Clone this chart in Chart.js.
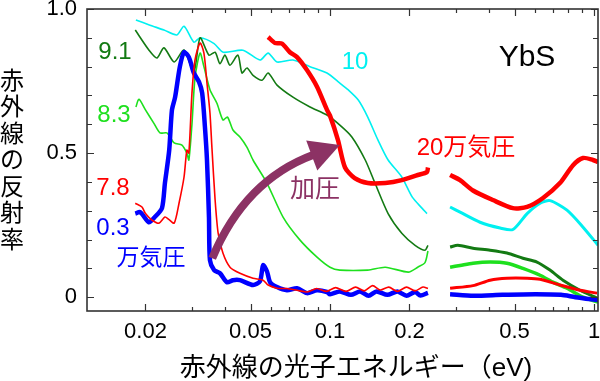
<!DOCTYPE html>
<html>
<head>
<meta charset="utf-8">
<script src="https://cdn.jsdelivr.net/npm/chart.js@4.4.0/dist/chart.umd.min.js"></script>
<style>
  html, body { margin: 0; padding: 0; background: #fff; }
  #chart { display: block; }
</style>
</head>
<body>
<canvas id="chart" width="600" height="381"></canvas>
<script>
// Photon energy (eV) and reflectance for each pressure (万気圧)
// null marks the gap between the two spectrometers
const e03 = [0.0183, 0.0191, 0.0206, 0.0217, 0.0231, 0.0237, 0.0246, 0.0252, 0.0259, 0.0270, 0.0280, 0.0292, 0.0305, 0.0319, 0.0328, 0.0336, 0.0342, 0.0348, 0.0351, 0.0364, 0.0383, 0.0407, 0.0429, 0.0456, 0.0511, 0.0543, 0.0558, 0.0577, 0.0593, 0.0630, 0.0687, 0.0750, 0.0818, 0.0893, 0.0974, 0.1000, 0.109, 0.120, 0.130, 0.140, 0.150, 0.165, 0.180, 0.195, 0.210, 0.220, 0.235, 0.26, 0.285, 0.350, 0.450, 0.600, 0.750, 0.850, 1.036];
const r03 = [0.290, 0.295, 0.260, 0.278, 0.309, 0.396, 0.510, 0.650, 0.694, 0.800, 0.850, 0.833, 0.778, 0.747, 0.708, 0.590, 0.476, 0.278, 0.128, 0.094, 0.083, 0.052, 0.059, 0.059, 0.042, 0.055, 0.111, 0.090, 0.052, 0.035, 0.024, 0.031, 0.014, 0.024, 0.018, 0.010, 0.020, 0.008, 0.020, 0.005, 0.020, 0.008, 0.020, 0.005, 0.018, 0.006, 0.015, null, 0.010, 0.005, 0.008, 0.010, 0.008, 0.000, -0.010];

const e78 = [0.0183, 0.0194, 0.0200, 0.0212, 0.0225, 0.0237, 0.0245, 0.0257, 0.0268, 0.0280, 0.0287, 0.0292, 0.0300, 0.0308, 0.0322, 0.0333, 0.0342, 0.0351, 0.0357, 0.0367, 0.0377, 0.0393, 0.0418, 0.0456, 0.0511, 0.0558, 0.0583, 0.0630, 0.0687, 0.0750, 0.0820, 0.0890, 0.0970, 0.105, 0.115, 0.125, 0.135, 0.145, 0.155, 0.167, 0.180, 0.195, 0.210, 0.225, 0.235, 0.26, 0.285, 0.348, 0.404, 0.468, 0.558, 0.625, 0.743, 0.885, 1.027];
const r78 = [0.326, 0.313, 0.290, 0.267, 0.257, 0.278, 0.270, 0.257, 0.326, 0.417, 0.510, 0.500, 0.708, 0.823, 0.882, 0.847, 0.743, 0.640, 0.520, 0.340, 0.222, 0.153, 0.104, 0.083, 0.066, 0.059, 0.042, 0.031, 0.030, 0.024, 0.018, 0.030, 0.020, 0.033, 0.020, 0.035, 0.022, 0.040, 0.025, 0.035, 0.020, 0.035, 0.022, 0.035, 0.030, null, 0.031, 0.040, 0.059, 0.066, 0.066, 0.062, 0.042, 0.024, 0.014];

const e83 = [0.0184, 0.0189, 0.0200, 0.0215, 0.0227, 0.0241, 0.0257, 0.0275, 0.0287, 0.0292, 0.0300, 0.0308, 0.0322, 0.0333, 0.0351, 0.0373, 0.0393, 0.0409, 0.0429, 0.0456, 0.0485, 0.0511, 0.0577, 0.0664, 0.0770, 0.0893, 0.1000, 0.109, 0.139, 0.162, 0.198, 0.215, 0.229, 0.235, 0.26, 0.285, 0.311, 0.348, 0.404, 0.468, 0.538, 0.625, 0.699, 0.790, 0.909, 1.036];
const r83 = [0.660, 0.687, 0.650, 0.604, 0.570, 0.570, 0.535, 0.528, 0.500, 0.476, 0.600, 0.760, 0.847, 0.800, 0.720, 0.673, 0.615, 0.625, 0.580, 0.556, 0.520, 0.476, 0.396, 0.278, 0.198, 0.139, 0.104, 0.094, 0.094, 0.104, 0.087, 0.104, 0.120, 0.160, null, 0.104, 0.110, 0.118, 0.122, 0.118, 0.100, 0.076, 0.052, 0.031, 0.000, -0.017];

const e91 = [0.0183, 0.0206, 0.0221, 0.0235, 0.0257, 0.0280, 0.0305, 0.0322, 0.0348, 0.0367, 0.0383, 0.0400, 0.0418, 0.0448, 0.0464, 0.0485, 0.0511, 0.0553, 0.0583, 0.0630, 0.0724, 0.0840, 0.0974, 0.109, 0.121, 0.136, 0.148, 0.166, 0.187, 0.210, 0.229, 0.235, 0.26, 0.285, 0.305, 0.348, 0.404, 0.468, 0.538, 0.608, 0.681, 0.763, 0.885, 1.027];
const r91 = [0.927, 0.858, 0.830, 0.865, 0.816, 0.858, 0.780, 0.900, 0.840, 0.850, 0.810, 0.840, 0.805, 0.840, 0.778, 0.795, 0.770, 0.753, 0.778, 0.736, 0.694, 0.660, 0.632, 0.597, 0.556, 0.476, 0.396, 0.290, 0.222, 0.180, 0.163, 0.180, null, 0.174, 0.180, 0.170, 0.163, 0.153, 0.135, 0.122, 0.094, 0.059, 0.024, -0.003];

const e10 = [0.0184, 0.0208, 0.0235, 0.0263, 0.0280, 0.0305, 0.0322, 0.0364, 0.0394, 0.0468, 0.0543, 0.0583, 0.0630, 0.0724, 0.0840, 0.0974, 0.109, 0.117, 0.128, 0.139, 0.152, 0.166, 0.187, 0.205, 0.223, 0.233, 0.26, 0.285, 0.311, 0.370, 0.441, 0.493, 0.558, 0.625, 0.681, 0.790, 0.909, 1.036];
const r10 = [0.962, 0.944, 0.927, 0.910, 0.940, 0.885, 0.900, 0.880, 0.850, 0.857, 0.823, 0.847, 0.816, 0.823, 0.800, 0.778, 0.743, 0.720, 0.684, 0.625, 0.545, 0.476, 0.417, 0.347, 0.309, 0.290, null, 0.313, 0.295, 0.260, 0.240, 0.235, 0.290, 0.326, 0.335, 0.302, 0.243, 0.180];

const e20 = [0.0583, 0.0619, 0.0658, 0.0705, 0.0750, 0.0818, 0.0893, 0.0974, 0.1000, 0.1072, 0.114, 0.124, 0.139, 0.162, 0.187, 0.215, 0.233, 0.235, 0.26, 0.285, 0.311, 0.348, 0.414, 0.493, 0.558, 0.641, 0.743, 0.833, 0.909, 0.991, 1.036];
const r20 = [0.903, 0.882, 0.880, 0.850, 0.833, 0.788, 0.730, 0.650, 0.630, 0.545, 0.450, 0.413, 0.396, 0.396, 0.406, 0.424, 0.434, 0.450, null, 0.424, 0.406, 0.370, 0.337, 0.309, 0.313, 0.344, 0.396, 0.458, 0.483, 0.476, 0.469];

// Axis ticks
const xTicks = [0.02, 0.03, 0.04, 0.05, 0.06, 0.07, 0.08, 0.09, 0.1, 0.2, 0.3, 0.4, 0.5, 0.6, 0.7, 0.8, 0.9, 1];
const xLabels = { 0.02: '0.02', 0.05: '0.05', 0.1: '0.1', 0.2: '0.2', 0.5: '0.5', 1: '1' };
const yTicks = [0, 0.1, 0.2, 0.3, 0.4, 0.5, 0.6, 0.7, 0.8, 0.9, 1.0];
const yLabels = { 0: '0', 0.5: '0.5', 1: '1.0' };

// Text labels placed at (energy, reflectance)
const noteText = ['9.1', '8.3', '7.8', '0.3', '万気圧', '10', 'YbS', '20万気圧', '加圧'];
const noteE = [0.01533, 0.01520, 0.01507, 0.01507, 0.02099, 0.1244, 0.5575, 0.3274, 0.0877];
const noteR = [0.851, 0.632, 0.378, 0.240, 0.135, 0.816, 0.830, 0.517, 0.372];

// Pressure arrow: start, bend, tip (energy, reflectance)
const arrowE = [0.0358, 0.0476, 0.109];
const arrowR = [0.135, 0.406, 0.528];

const yTitle = '赤外線の反射率';
const xTitle = '赤外線の光子エネルギー（eV)';

const FONT = "'Liberation Sans', Arial, 'Noto Sans CJK JP', sans-serif";
const noteColor = ['#137a13', '#1ee01e', '#ff0000', '#0000ff', '#0000ff', '#00f0f0', '#000000', '#ff0000', '#8c3264'];
const noteSize = [24, 24, 24, 24, 23, 24, 30, 24, 25];

function toPoints(es, rs) {
    return es.map((e, i) => ({ x: e, y: rs[i] }));
}

function makeSet(es, rs, color, width, wideAfterGap) {
    return {
        data: toPoints(es, rs),
        borderColor: color,
        borderWidth: width,
        pointRadius: 0,
        tension: 0.25,
        spanGaps: false,
        fill: false,
        segment: {
            borderWidth: ctx => (ctx.p0.parsed.x > 0.26 ? wideAfterGap : width)
        }
    };
}

// Frame and inward tick marks on all four sides
const framePlugin = {
    id: 'frame',
    afterDatasetsDraw(chart) {
        const { ctx, chartArea: a, scales: { x, y } } = chart;
        ctx.save();
        ctx.strokeStyle = '#333';
        ctx.lineWidth = 1.2;
        ctx.beginPath();
        xTicks.forEach(v => {
            const px = Math.round(x.getPixelForValue(v)) + 0.5;
            const len = xLabels[v] ? 7 : 4;
            ctx.moveTo(px, a.bottom); ctx.lineTo(px, a.bottom - len);
            ctx.moveTo(px, a.top); ctx.lineTo(px, a.top + len);
        });
        yTicks.forEach(v => {
            const py = Math.round(y.getPixelForValue(v)) + 0.5;
            const len = yLabels[v] ? 7 : 5;
            ctx.moveTo(a.left, py); ctx.lineTo(a.left + len, py);
            ctx.moveTo(a.right, py); ctx.lineTo(a.right - len, py);
        });
        ctx.stroke();
        ctx.lineWidth = 1.6;
        ctx.strokeRect(a.left, a.top, a.right - a.left, a.bottom - a.top);
        ctx.restore();
    }
};

// Curved pressure arrow and text notes
const notesPlugin = {
    id: 'notes',
    afterDraw(chart) {
        const { ctx, scales: { x, y } } = chart;
        ctx.save();

        const sx = x.getPixelForValue(arrowE[0]), sy = y.getPixelForValue(arrowR[0]);
        const cx = x.getPixelForValue(arrowE[1]), cy = y.getPixelForValue(arrowR[1]);
        const tx = x.getPixelForValue(arrowE[2]), ty = y.getPixelForValue(arrowR[2]);
        let dx = tx - cx, dy = ty - cy;
        const d = Math.hypot(dx, dy);
        dx /= d; dy /= d;
        const headLen = 30, headHalf = 16;
        const bx = tx - dx * headLen, by = ty - dy * headLen;
        ctx.strokeStyle = '#8c3264';
        ctx.fillStyle = '#8c3264';
        ctx.lineWidth = 8;
        ctx.beginPath();
        ctx.moveTo(sx, sy);
        ctx.quadraticCurveTo(cx, cy, bx + dx * 2, by + dy * 2);
        ctx.stroke();
        ctx.beginPath();
        ctx.moveTo(tx, ty);
        ctx.lineTo(bx - dy * headHalf, by + dx * headHalf);
        ctx.lineTo(bx + dy * headHalf, by - dx * headHalf);
        ctx.closePath();
        ctx.fill();

        ctx.textAlign = 'center';
        ctx.textBaseline = 'middle';
        noteText.forEach((t, i) => {
            ctx.fillStyle = noteColor[i];
            ctx.font = noteSize[i] + 'px ' + FONT;
            ctx.fillText(t, x.getPixelForValue(noteE[i]), y.getPixelForValue(noteR[i]));
        });

        // axis titles
        ctx.fillStyle = '#000';
        ctx.font = '24px ' + FONT;
        [...yTitle].forEach((ch, i) => {
            ctx.fillText(ch, 12, 82 + i * 26.5);
        });
        ctx.font = '26px ' + FONT;
        ctx.fillText(xTitle, 356, 369);
        ctx.restore();
    }
};

const chart = new Chart(document.getElementById('chart'), {
    type: 'line',
    data: {
        datasets: [
            makeSet(e20, r20, '#ff0000', 4.5, 4.5),
            makeSet(e78, r78, '#ff0000', 1.6, 3),
            makeSet(e03, r03, '#0000ff', 4.5, 4.5),
            makeSet(e83, r83, '#1ee01e', 1.6, 3.5),
            makeSet(e91, r91, '#137a13', 1.6, 3),
            makeSet(e10, r10, '#00f0f0', 1.6, 3)
        ]
    },
    options: {
        responsive: false,
        animation: false,
        devicePixelRatio: 1,
        layout: { padding: { top: 9, right: 2, left: 0, bottom: 0 } },
        plugins: { legend: { display: false }, tooltip: { enabled: false } },
        scales: {
            x: {
                type: 'logarithmic',
                min: 0.012011,
                max: 1.0355,
                afterBuildTicks: s => { s.ticks = xTicks.map(v => ({ value: v })); },
                afterFit: s => { s.height = 70; s.paddingLeft = 0; s.paddingRight = 0; },
                grid: { display: false, drawTicks: false },
                border: { display: false },
                ticks: {
                    autoSkip: false,
                    maxRotation: 0,
                    padding: 8,
                    color: '#000',
                    font: { family: FONT, size: 22 },
                    callback: v => xLabels[v] || ''
                }
            },
            y: {
                type: 'linear',
                min: -0.048,
                max: 1.0,
                afterBuildTicks: s => { s.ticks = yTicks.map(v => ({ value: v })); },
                afterFit: s => { s.width = 87; s.paddingTop = 0; s.paddingBottom = 0; },
                grid: { display: false, drawTicks: false },
                border: { display: false },
                ticks: {
                    padding: 10,
                    color: '#000',
                    font: { family: FONT, size: 22 },
                    callback: v => yLabels[v] || ''
                }
            }
        }
    },
    plugins: [framePlugin, notesPlugin]
});
</script>
</body>
</html>
